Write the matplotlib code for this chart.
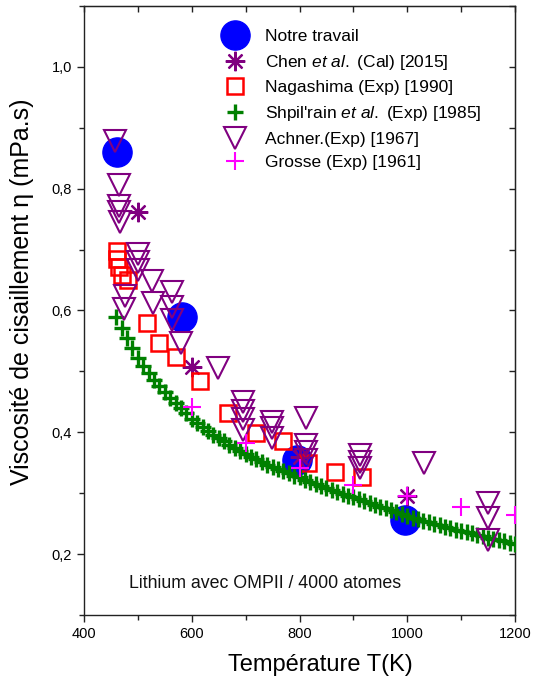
import matplotlib
matplotlib.use("Agg")
import matplotlib.pyplot as plt
from matplotlib.ticker import MultipleLocator, FuncFormatter

plt.rcParams['font.family'] = ['Liberation Sans', 'DejaVu Sans']
plt.rcParams['mathtext.fontset'] = 'custom'
plt.rcParams['mathtext.rm'] = 'Liberation Sans'
plt.rcParams['mathtext.it'] = 'Liberation Sans:italic'

# ---------------- data ----------------
notre_T = [461, 581, 795, 996]
notre_eta = [0.860, 0.590, 0.355, 0.256]

chen_T = [500, 600, 800, 1000]
chen_eta = [0.761, 0.508, 0.360, 0.295]

naga_T = [461, 462, 465, 471, 481, 517, 539, 571, 615, 667, 719, 769, 816, 866, 916]
naga_eta = [0.697, 0.684, 0.671, 0.659, 0.650, 0.580, 0.547, 0.523, 0.485,
            0.432, 0.399, 0.386, 0.350, 0.335, 0.327]

shpil_T = [460, 470, 480, 490, 500, 510, 520, 530, 540, 550, 560, 570, 580, 590,
           600, 610, 620, 630, 640, 650, 660, 670, 680, 690, 700, 710, 720, 730,
           740, 750, 760, 770, 780, 790, 800, 810, 820, 830, 840, 850, 860, 870,
           880, 890, 900, 910, 920, 930, 940, 950, 960, 970, 980, 990, 1000, 1010,
           1020, 1030, 1040, 1050, 1060, 1070, 1080, 1090, 1100, 1110, 1120, 1130,
           1140, 1150, 1160, 1170, 1180, 1190, 1200]
shpil_eta = [0.590, 0.572, 0.555, 0.538, 0.522, 0.509, 0.497, 0.486, 0.476, 0.466,
             0.457, 0.448, 0.440, 0.431, 0.422, 0.415, 0.409, 0.402, 0.396, 0.390,
             0.385, 0.379, 0.374, 0.369, 0.364, 0.360, 0.356, 0.351, 0.347, 0.343,
             0.340, 0.336, 0.333, 0.329, 0.326, 0.322, 0.319, 0.315, 0.312, 0.308,
             0.305, 0.302, 0.299, 0.296, 0.293, 0.290, 0.287, 0.284, 0.281, 0.278,
             0.275, 0.272, 0.269, 0.266, 0.263, 0.260, 0.258, 0.255, 0.253, 0.250,
             0.248, 0.245, 0.243, 0.240, 0.238, 0.236, 0.234, 0.231, 0.229, 0.227,
             0.225, 0.223, 0.221, 0.219, 0.217]

achner_T = [457, 465, 465, 465, 466, 500, 500, 500, 476, 475, 526, 528, 563, 563,
            563, 580, 649, 695, 695, 695, 695, 749, 749, 749, 812, 812, 812, 812,
            912, 912, 912, 1031, 1150, 1150, 1150]
achner_eta = [0.878, 0.806, 0.771, 0.761, 0.746, 0.692, 0.680, 0.667, 0.623, 0.602,
              0.648, 0.613, 0.631, 0.605, 0.585, 0.547, 0.506, 0.449, 0.435, 0.422,
              0.404, 0.417, 0.407, 0.391, 0.424, 0.379, 0.368, 0.355, 0.363, 0.351,
              0.342, 0.350, 0.284, 0.259, 0.223]

grosse_T = [600, 700, 800, 900, 1000, 1100, 1200]
grosse_eta = [0.442, 0.383, 0.342, 0.314, 0.295, 0.277, 0.264]

labels = ["Notre travail",
          r"Chen $\it{et\ al.}$ (Cal) [2015]",
          "Nagashima (Exp) [1990]",
          r"Shpil'rain $\it{et\ al.}$ (Exp) [1985]",
          "Achner.(Exp) [1967]",
          "Grosse (Exp) [1961]"]

# ---------------- figure ----------------
fig = plt.figure(figsize=(5.33, 6.81), dpi=100)
ax = fig.add_axes([84/533, 1 - 615/681, (515-84)/533, (615-6)/681])

purple = '#800080'
ax.plot(notre_T, notre_eta, 'o', ms=21, color='#0000ff', mec='#0000ff', label=labels[0], zorder=2)
ax.plot(chen_T, chen_eta, ls='none', marker=(8, 2, 0), ms=14, mew=1.6, color=purple, label=labels[1], zorder=3)
ax.plot(naga_T, naga_eta, 's', ms=12, mfc='none', mec='#ff0000', mew=1.8, label=labels[2], zorder=4)
ax.plot(shpil_T, shpil_eta, '+', ms=11, mew=2.4, color='#008000', label=labels[3], zorder=5)
ax.plot(achner_T, achner_eta, 'v', ms=16, mfc='none', mec=purple, mew=1.5, label=labels[4], zorder=6)
ax.plot(grosse_T, grosse_eta, '+', ms=13, mew=1.5, color='#ff00ff', label=labels[5], zorder=7)

ax.set_xlim(400, 1200)
ax.set_ylim(0.1, 1.1)
ax.xaxis.set_major_locator(MultipleLocator(200))
ax.xaxis.set_minor_locator(MultipleLocator(100))
ax.yaxis.set_major_locator(MultipleLocator(0.2))
ax.yaxis.set_minor_locator(MultipleLocator(0.1))
ax.yaxis.set_major_formatter(FuncFormatter(lambda v, p: f"{v:.1f}".replace('.', ',')))

for s in ax.spines.values():
    s.set_linewidth(1.0)
    s.set_color('#222222')

ax.tick_params(which='both', direction='out', top=False, right=False, colors='#222222',
               labelsize=10.5, width=1.0)
ax.tick_params(which='major', length=5)
ax.tick_params(which='minor', length=3.5)
ax.tick_params(axis='both', labelcolor='black')

# inward ticks on top and right
axt = ax.secondary_xaxis('top')
axt.xaxis.set_major_locator(MultipleLocator(100))
axt.tick_params(direction='in', length=4, width=1.0, labeltop=False, colors='#222222')
axr = ax.secondary_yaxis('right')
axr.yaxis.set_major_locator(MultipleLocator(0.1))
axr.tick_params(direction='in', length=4, width=1.0, labelright=False, colors='#222222')

ax.set_xlabel("Température T(K)", fontsize=17)
ax.xaxis.set_label_coords(0.548, -0.064)
ax.set_ylabel("Viscosité de cisaillement η (mPa.s)", fontsize=18, va='center')
ax.yaxis.set_label_coords(-0.144, 0.53)

ax.text(0.104, 0.0525, "Lithium avec OMPII / 4000 atomes", transform=ax.transAxes,
        fontsize=12.8, va='center', ha='left', color='#111111')

ax.legend(loc='upper left', bbox_to_anchor=(0.324, 0.962), frameon=False, fontsize=12.5,
          numpoints=1, handlelength=1.3, handletextpad=1.08, labelspacing=0.49,
          borderpad=0, borderaxespad=0)

fig.savefig("out.png", dpi=100)
